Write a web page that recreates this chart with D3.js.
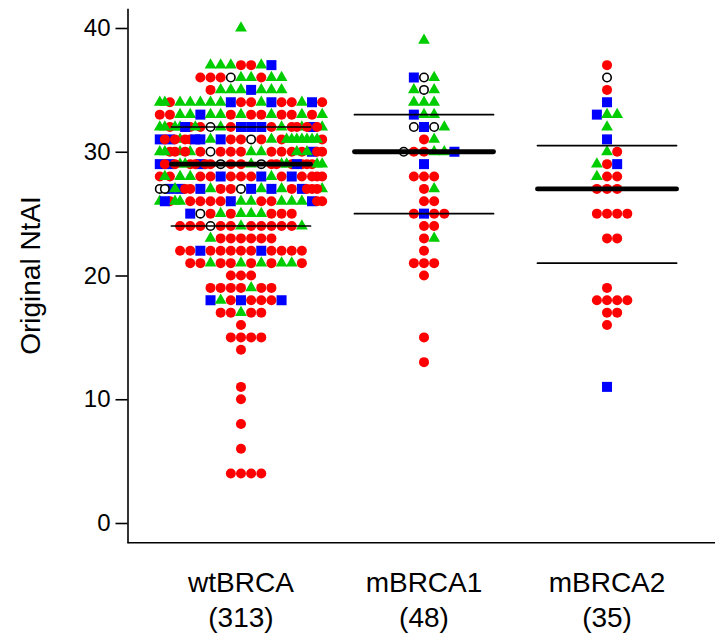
<!DOCTYPE html>
<html>
<head>
<meta charset="utf-8">
<script src="https://cdn.jsdelivr.net/npm/d3@7"></script>
<style>
  body { margin: 0; background: #fff; }
  svg { display: block; font-family: "Liberation Sans", Arial, sans-serif; }
</style>
</head>
<body>
<svg width="715" height="635"></svg>
<script>
const groups = ["wtBRCA", "mBRCA1", "mBRCA2"];

// one row per value: [value, markers left to right, markers that wrap over the row]
// R red dot, G green triangle, B blue square, O open circle
const wtRows = [
  [40, "G"],
  [37, "GGGRRGB"],
  [36, "RRROGGRGG"],
  [35, "RGGGBGGG"],
  [34, "GRGGGGGBRRGBRRGBR", "G"],
  [33, "RRGGBGGRGRRGRRGRG"],
  [32, "GRGRROGRBBBRGRGBG", "GRGRBRG"],
  [31, "BBGRBGBRRORGRGGGR", "RGRGRGBG"],
  [30, "GRGGRORRRGGRRRRBR", "GRRGRG"],
  [29, "BBGRBRORRGORGRRRG", "RGRRGBRGRR"],
  [28, "RRGGRRBRRRBGRBRRR", "GR"],
  [27, "OBBRBGRROBGBGRBRG", "ORGRR"],
  [26, "GRGRRRRBGGRRGGGBR", "BRG"],
  [25, "BORGRGGGRRR"],
  [24, "RRRORRGRRRRRG"],
  [23, "GRRRRRR"],
  [22, "RRBRRRRRBRRRR"],
  [21, "RRGRRGRGRGGR"],
  [20, "RRR"],
  [19, "RRRRGRR"],
  [18, "BGRBRRRB"],
  [17, "RRGRR"],
  [16, "R"],
  [15, "RRRR"],
  [14, "R"],
  [11, "R"],
  [10, "R"],
  [8, "R"],
  [6, "R"],
  [4, "RRRR"]
];

const mbrca1Rows = [
  [39, "G"], [36, "BOG"], [35, "GOG"], [34, "GGG"], [33, "BGG"], [32, "OBOG"],
  [31, "RG"], [30, "ORRGGB"], [29, "B"], [28, "RRR"], [27, "RG"], [26, "RR"],
  [25, "RBRR"], [24, "RR"], [23, "RG"], [22, "R"], [21, "RRR"], [20, "R"],
  [15, "R"], [13, "R"]
];

const mbrca2Rows = [
  [37, "R"], [36, "O"], [35, "R"], [34, "B"], [33, "BGG"], [32, "G"], [31, "B"],
  [30, "GR"], [29, "GRB"], [28, "GRR"], [27, "RRR"], [25, "RRRR"], [23, "RR"],
  [19, "R"], [18, "RRRR"], [17, "RR"], [16, "R"], [11, "B"]
];

const yTicks = [0, 10, 20, 30, 40];

const svg = d3.select("svg");
const x = d3.scaleLinear().domain([0.38, 3.62]).range([127.5, 720.5]);
const y = d3.scaleLinear().domain([-1.6, 41.6]).range([542.8, 8.2]);
const step = 10.15;   // one marker width
const colors = { R: "#ff0000", G: "#00cd00", B: "#0000ff" };

// square beeswarm: centred grid, wrapped markers fall half a step in from the edges
function swarm(rows, gi) {
  const pts = [];
  rows.forEach(([v, main, extra = ""]) => {
    const left = -Math.floor((main.length - 1) / 2);
    main.split("").forEach((c, i) => pts.push({ v, c, off: left + i }));
    extra.split("").forEach((c, j) => {
      const off = (j % 2 ? 1 : -1) * (7.5 - Math.floor(j / 2));
      pts.push({ v, c, off });
    });
  });
  pts.forEach(p => { p.px = x(gi + 1) + p.off * step; p.py = y(p.v); });
  return pts;
}

const allRows = [wtRows, mbrca1Rows, mbrca2Rows];
const data = allRows.map((rows, gi) => swarm(rows, gi));

const pts = svg.append("g").attr("class", "points");
const tri = d3.symbol().type(d3.symbolTriangle).size(60);

data.flat().forEach(p => {
  if (p.c === "R") {
    pts.append("circle").attr("cx", p.px).attr("cy", p.py).attr("r", 5).attr("fill", colors.R);
  } else if (p.c === "B") {
    pts.append("rect").attr("x", p.px - 5).attr("y", p.py - 5)
      .attr("width", 10).attr("height", 10).attr("fill", colors.B);
  } else if (p.c === "G") {
    pts.append("path").attr("d", tri()).attr("transform", `translate(${p.px},${p.py})`)
      .attr("fill", colors.G);
  } else {
    pts.append("circle").attr("cx", p.px).attr("cy", p.py).attr("r", 4.2)
      .attr("fill", "#fff").attr("stroke", "#000").attr("stroke-width", 1.6);
  }
});

/* --------- QUARTILE LINES ---------*/
data.forEach((g, gi) => {
  const vals = g.map(p => p.v).sort(d3.ascending);
  [[0.25, 1.7], [0.5, 4.8], [0.75, 1.7]].forEach(([q, w]) => {
    const qy = y(d3.quantile(vals, q));
    svg.append("line")
      .attr("x1", x(gi + 1 - 0.38)).attr("x2", x(gi + 1 + 0.38))
      .attr("y1", qy).attr("y2", qy)
      .attr("stroke", "#000").attr("stroke-width", w).attr("stroke-linecap", "round");
  });
});

/* --------- AXES ---------*/
const yAxis = svg.append("g")
  .attr("transform", `translate(${x.range()[0]},0)`)
  .call(d3.axisLeft(y).tickValues(yTicks).tickSize(12).tickSizeOuter(0).tickPadding(5));
yAxis.selectAll("path, line").attr("stroke", "#000").attr("stroke-width", 1.6);
yAxis.selectAll("text").attr("font-size", 24).attr("fill", "#000")
  .attr("font-family", "Liberation Sans, Arial, sans-serif");

svg.append("line")
  .attr("x1", x.range()[0]).attr("x2", 715)
  .attr("y1", y.range()[0]).attr("y2", y.range()[0])
  .attr("stroke", "#000").attr("stroke-width", 1.6);

const labels = svg.append("g").attr("font-size", 28).attr("text-anchor", "middle");
groups.forEach((name, gi) => {
  labels.append("text").attr("x", x(gi + 1)).attr("y", 592).text(name);
  labels.append("text").attr("x", x(gi + 1)).attr("y", 627).text(`(${data[gi].length})`);
});

svg.append("text")
  .attr("transform", `translate(40,${(y.range()[0] + y.range()[1]) / 2}) rotate(-90)`)
  .attr("text-anchor", "middle").attr("font-size", 28)
  .text("Original NtAI");
</script>
</body>
</html>
